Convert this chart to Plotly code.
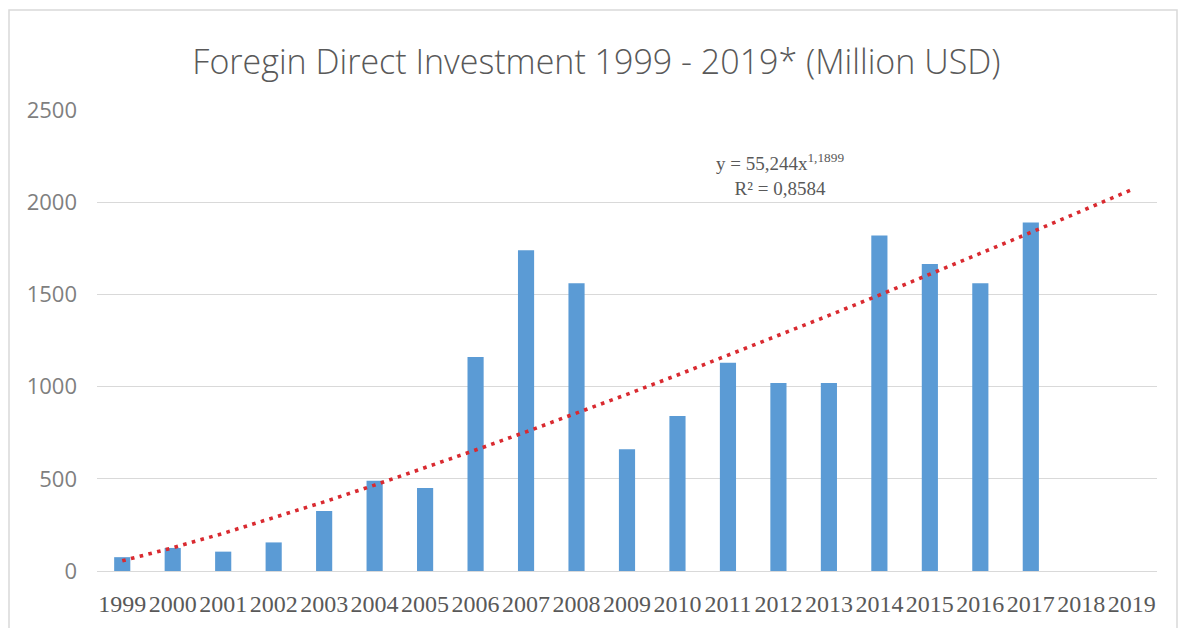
import plotly.graph_objects as go

# Annual FDI inflows, million USD
years = [str(y) for y in range(1999, 2020)]
fdi = [75, 125, 105, 155, 325, 490, 450, 1160, 1740, 1560, 660,
       840, 1130, 1020, 1020, 1820, 1665, 1560, 1890, None, None]

# Power trendline y = a * x^b, x = 1..n (as labelled on the chart)
trend_a = 55.244
trend_b = 1.1899
trend_r2 = 0.8584
trend_y = [trend_a * (i + 1) ** trend_b for i in range(len(years))]

W, H = 1181, 628
L, R, T, B = 97, 24, 110, 57

fig = go.Figure()
fig.add_trace(go.Bar(
    x=years, y=fdi, marker=dict(color="#5b9bd5", line=dict(width=0)),
    hoverinfo="x+y", showlegend=False,
))
fig.add_trace(go.Scatter(
    x=years, y=trend_y, mode="lines",
    line=dict(color="#d92a30", width=3.6, dash="3.6px,5.4px"),
    showlegend=False, hoverinfo="skip",
))

fig.update_layout(
    width=W, height=H,
    margin=dict(l=L, r=R, t=T, b=B, pad=0),
    paper_bgcolor="white", plot_bgcolor="white",
    bargap=0.68,
    title=dict(
        text="Foregin Direct Investment 1999 - 2019* (Million USD)",
        font=dict(family="Open Sans", size=34, color="#595959", weight=300),
        x=0.505, xref="container", xanchor="center",
        y=1 - 62 / H, yref="container", yanchor="middle",
    ),
    xaxis=dict(
        type="category", showgrid=False, zeroline=False,
        showline=True, linecolor="#d9d9d9", linewidth=1,
        ticks="", ticklabelstandoff=11,
        tickfont=dict(family="Liberation Serif", size=24, color="#595959"),
    ),
    yaxis=dict(
        range=[0, 2500], tickvals=[0, 500, 1000, 1500, 2000, 2500],
        showgrid=True, gridcolor="#d9d9d9", gridwidth=1,
        zeroline=False, showline=False, ticks="",
        ticklabelstandoff=19,
        tickfont=dict(family="Open Sans", size=22, color="#7f7f7f"),
    ),
    annotations=[dict(
        text=f"y = 55,244x<sup>1,1899</sup><br>R² = {str(trend_r2).replace('.', ',')}",
        xref="paper", yref="paper", x=(780 - L) / (W - L - R),
        y=(H - B - 174) / (H - T - B), xanchor="center", yanchor="middle",
        showarrow=False, align="center",
        font=dict(family="Liberation Serif", size=19, color="#595959"),
    )],
    shapes=[dict(
        type="rect", xref="paper", yref="paper",
        x0=(9 - L) / (W - L - R), x1=(1177 - L) / (W - L - R),
        y0=(H - B - 640) / (H - T - B), y1=(H - B - 10) / (H - T - B),
        line=dict(color="#d9d9d9", width=1.5), fillcolor="rgba(0,0,0,0)",
        layer="below",
    )],
)

fig.write_html("out.html")
